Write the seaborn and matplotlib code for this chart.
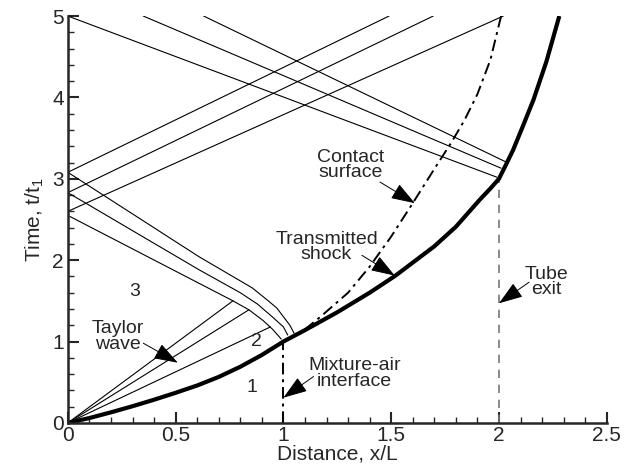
import numpy as np
import matplotlib
matplotlib.use("Agg")
import matplotlib.pyplot as plt
import seaborn as sns
from matplotlib.ticker import MultipleLocator, FuncFormatter

# -----------------------------------------------------------------------------
# data (x/L, t/t1)

shock_x = [0, 0.1, 0.2, 0.3, 0.4, 0.5, 0.6, 0.7, 0.8, 0.9, 1.0,
           1.1, 1.25, 1.4, 1.52, 1.6, 1.7, 1.8, 1.91, 1.96, 2.0,
           2.03, 2.065, 2.11, 2.16, 2.22, 2.28]
shock_t = [0, 0.06, 0.13, 0.205, 0.285, 0.37, 0.46, 0.565, 0.69, 0.835, 1.0,
           1.14, 1.36, 1.6, 1.81, 1.97, 2.17, 2.41, 2.74, 2.88, 3.0,
           3.16, 3.35, 3.64, 3.97, 4.44, 5.0]

contact_x = [1.0, 1.1, 1.17, 1.3, 1.4, 1.5, 1.6, 1.7, 1.78, 1.84, 1.90, 1.96, 2.01]
contact_t = [1.0, 1.15, 1.30, 1.6, 1.92, 2.29, 2.70, 3.12, 3.45, 3.72, 4.04, 4.46, 5.0]

interface_x = [1.0, 1.0]
interface_t = [0.0, 1.0]

exit_x = [2.0, 2.0]
exit_t = [0.0, 3.0]

# Taylor wave fan (from origin to these tips)
fan_x = [0.766, 0.84, 0.94]
fan_t = [1.50, 1.39, 1.18]

# reflected waves coming back from the closed end
refl_a_x = [0, 0.61, 0.855, 0.93, 0.97, 1.03, 1.05]
refl_a_t = [3.08, 2.04, 1.66, 1.50, 1.41, 1.20, 1.10]
refl_b_x = [0, 0.61, 0.80, 0.88, 0.95, 1.0, 1.02]
refl_b_t = [2.83, 1.88, 1.60, 1.46, 1.30, 1.18, 1.08]
refl_c_x = [0, 0.766, 0.84, 0.905, 0.95, 0.99]
refl_c_t = [2.55, 1.50, 1.39, 1.26, 1.15, 1.03]

# waves leaving the closed end towards the exit
up_start_t = [3.08, 2.83, 2.60]
up_end_x = [1.49, 1.695, 2.02]

# waves reflected back from the exit
down_start_x = [0.0, 0.35, 0.63]
down_end_x = [1.99, 2.01, 2.03]
down_end_t = [3.02, 3.13, 3.21]

# -----------------------------------------------------------------------------
sns.set_style("ticks")
plt.rcParams['font.family'] = ['Liberation Sans', 'DejaVu Sans']
plt.rcParams['mathtext.fontset'] = 'custom'
plt.rcParams['mathtext.rm'] = 'Liberation Sans'
plt.rcParams['mathtext.it'] = 'Liberation Sans:italic'
plt.rcParams['mathtext.default'] = 'regular'

fig = plt.figure(figsize=(6.34, 4.72), dpi=100)
ax = fig.add_axes([0.107, 0.104, 0.85, 0.862])

thin = dict(color='k', lw=0.8, sort=False, estimator=None, ax=ax)

for xe, te in zip(fan_x, fan_t):
    sns.lineplot(x=[0, xe], y=[0, te], **thin)
for xs, ts in [(refl_a_x, refl_a_t), (refl_b_x, refl_b_t), (refl_c_x, refl_c_t)]:
    sns.lineplot(x=xs, y=ts, **thin)
for ts, xe in zip(up_start_t, up_end_x):
    sns.lineplot(x=[0, xe], y=[ts, 5.0], **thin)
for xs, xe, te in zip(down_start_x, down_end_x, down_end_t):
    sns.lineplot(x=[xs, xe], y=[5.0, te], **thin)

sns.lineplot(x=exit_x, y=exit_t, color='#777777', lw=1.2, sort=False,
             estimator=None, ax=ax, linestyle=(0, (5, 4)))
sns.lineplot(x=interface_x, y=interface_t, color='k', lw=1.4, sort=False,
             estimator=None, ax=ax, linestyle=(0, (6, 2.5, 1.5, 2.5)))
sns.lineplot(x=contact_x, y=contact_t, color='k', lw=1.4, sort=False,
             estimator=None, ax=ax, linestyle=(0, (6, 2.5, 1.5, 2.5)))
sns.lineplot(x=shock_x, y=shock_t, color='k', lw=3.0, sort=False,
             estimator=None, ax=ax, solid_capstyle='butt',
             solid_joinstyle='round')

# -----------------------------------------------------------------------------
# labels and arrows
fs = 14
ax.text(0.311, 1.61, '3', fontsize=fs, ha='center', va='center')
ax.text(0.875, 1.0, '2', fontsize=fs, ha='center', va='center')
ax.text(0.853, 0.44, '1', fontsize=fs, ha='center', va='center')

notes = [
    ('Taylor\nwave', (0.23, 1.06), (0.35, 0.98), (0.51, 0.74)),
    ('Mixture-air\ninterface', (1.33, 0.61), (1.14, 0.57), (1.0, 0.31)),
    ('Transmitted\nshock', (1.20, 2.16), (1.364, 2.06), (1.517, 1.81)),
    ('Contact\nsurface', (1.31, 3.17), (1.448, 2.96), (1.61, 2.70)),
    ('Tube\nexit', (2.22, 1.73), (2.14, 1.73), (2.0, 1.47)),
]
for txt, pos, start, tip in notes:
    ax.text(pos[0], pos[1], txt, fontsize=fs, ha='center', va='center',
            linespacing=0.9)
    ax.annotate('', xy=tip, xytext=start,
                arrowprops=dict(arrowstyle='-|>,head_length=0.75,head_width=0.26',
                                color='k', lw=0.7, mutation_scale=20,
                                shrinkA=0, shrinkB=0))

# -----------------------------------------------------------------------------
ax.set_xlim(0, 2.5)
ax.set_ylim(0, 5)
ax.xaxis.set_major_locator(MultipleLocator(0.5))
ax.xaxis.set_minor_locator(MultipleLocator(0.1))
ax.yaxis.set_major_locator(MultipleLocator(1))
ax.yaxis.set_minor_locator(MultipleLocator(0.2))
ax.xaxis.set_major_formatter(FuncFormatter(lambda v, p: '%g' % v))
ax.yaxis.set_major_formatter(FuncFormatter(lambda v, p: '%g' % v))
ax.tick_params(which='major', direction='in', length=8, width=1.5,
               labelsize=15, pad=3)
ax.tick_params(axis='x', which='major', pad=2)
ax.tick_params(which='minor', direction='in', length=4, width=1.0)
sns.despine(ax=ax)
for s in ['left', 'bottom']:
    ax.spines[s].set_linewidth(1.8)

ax.set_xlabel('Distance, x/L', fontsize=15, labelpad=0)
ax.set_ylabel('Time, t/t$_1$', fontsize=15, labelpad=4)

fig.savefig('out.png', dpi=100)
